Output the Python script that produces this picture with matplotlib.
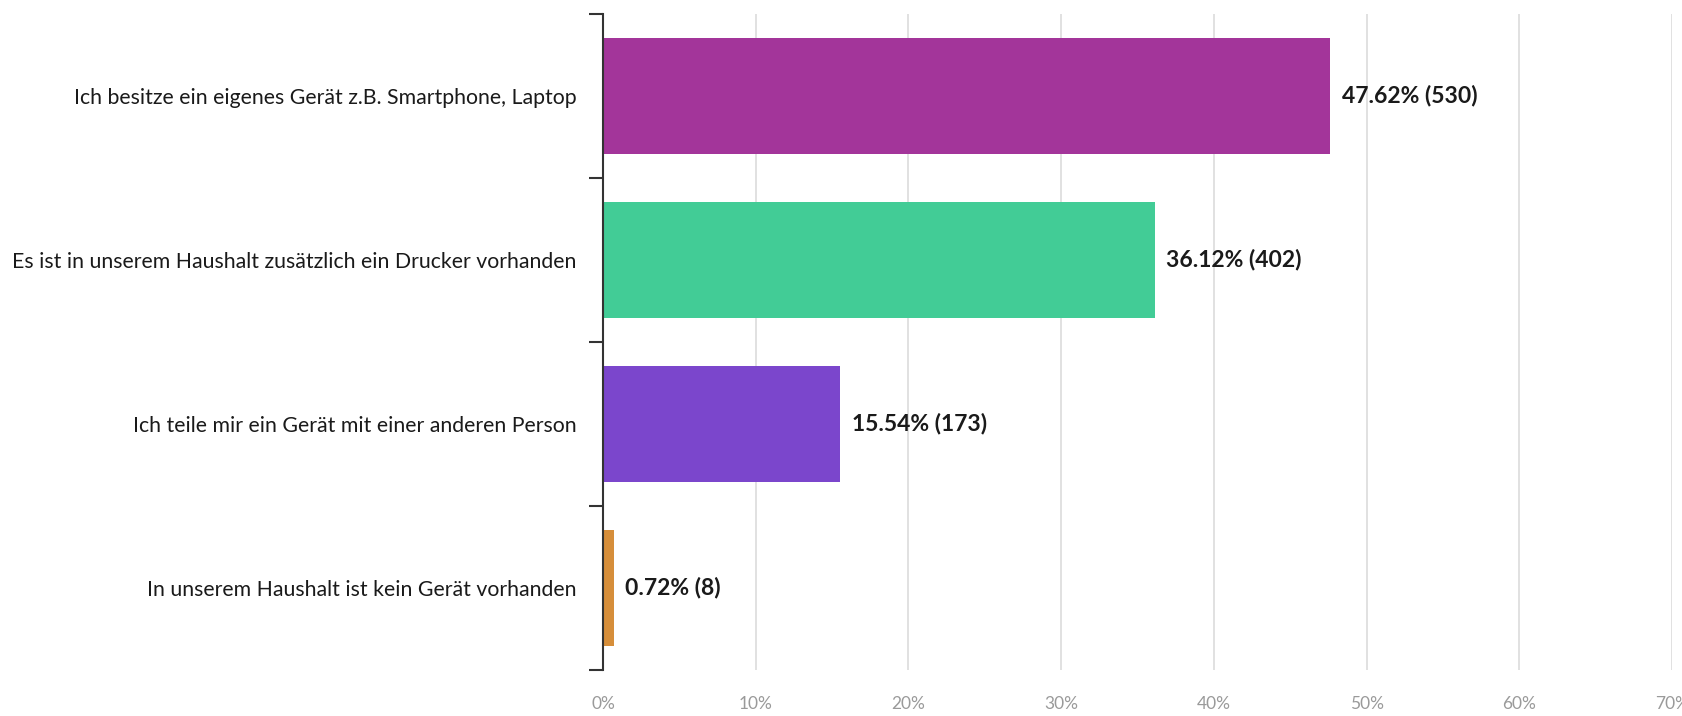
import matplotlib
matplotlib.use("Agg")
import matplotlib.pyplot as plt
from matplotlib.ticker import FixedLocator, FuncFormatter

categories = [
    "Ich besitze ein eigenes Gerät z.B. Smartphone, Laptop",
    "Es ist in unserem Haushalt zusätzlich ein Drucker vorhanden",
    "Ich teile mir ein Gerät mit einer anderen Person",
    "In unserem Haushalt ist kein Gerät vorhanden",
]
percents = [47.62, 36.12, 15.54, 0.72]
counts = [530, 402, 173, 8]
colors = ["#A3359A", "#42CC96", "#7B46CC", "#D68E3A"]
xticks = [0, 10, 20, 30, 40, 50, 60, 70]

plt.rcParams['font.family'] = ['Lato', 'DejaVu Sans']

fig = plt.figure(figsize=(16.82, 7.16), dpi=100)
ax = fig.add_axes([603/1682, 1 - 670/716, (1672 - 603)/1682, (670 - 14)/716])

ypos = list(range(len(categories)))
ax.barh(ypos, percents, height=0.71, color=colors, zorder=3)

for y, p, c in zip(ypos, percents, counts):
    ax.text(p + 0.75, y, f"{p:.2f}% ({c})", va="center", ha="left",
            fontsize=16.5, fontweight="bold", color="#1a1a1a", zorder=4)

ax.set_xlim(0, 70)
ax.set_ylim(3.5, -0.5)
ax.set_xticks(xticks)
ax.xaxis.set_major_formatter(FuncFormatter(lambda v, _: f"{int(v)}%"))
ax.tick_params(axis="x", length=0, pad=19, labelsize=12.5, labelcolor="#9a9a9a")
ax.grid(axis="x", color="#dcdcdc", linewidth=1.2, zorder=0)

ax.set_yticks(ypos)
ax.set_yticklabels(categories, fontsize=15.3, color="#1a1a1a")
ax.yaxis.set_minor_locator(FixedLocator([-0.5, 0.5, 1.5, 2.5, 3.5]))
ax.tick_params(axis="y", which="major", length=0, pad=19)
ax.tick_params(axis="y", which="minor", length=10, width=1.5, color="#333333")

for s in ["top", "right", "bottom"]:
    ax.spines[s].set_visible(False)
ax.spines["left"].set_color("#333333")
ax.spines["left"].set_linewidth(1.5)
ax.spines["left"].set_zorder(5)

fig.savefig("out.png", dpi=100)
